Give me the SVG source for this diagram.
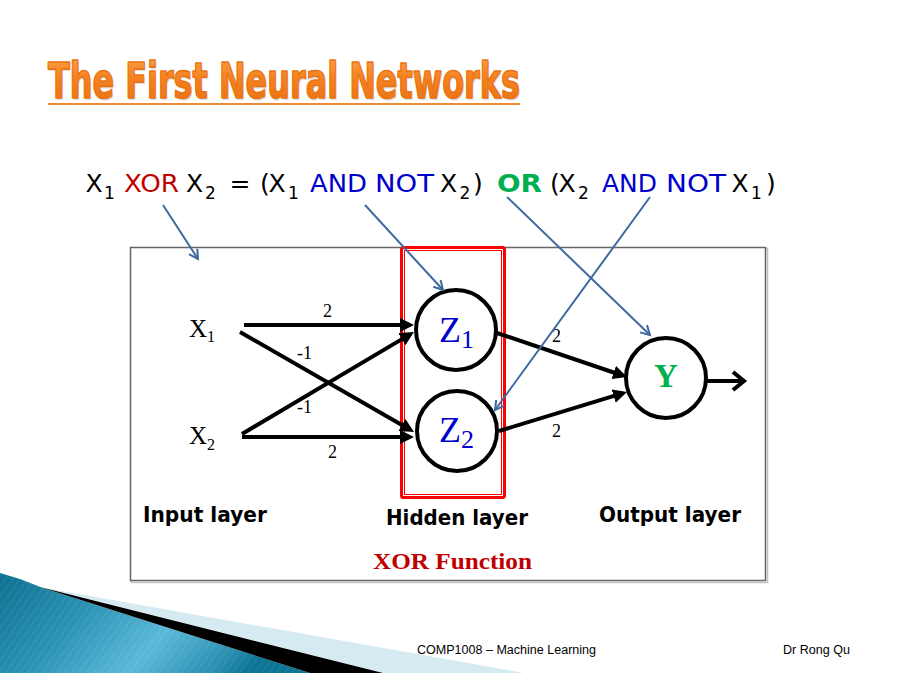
<svg xmlns="http://www.w3.org/2000/svg" width="899" height="673" viewBox="0 0 899 673">
<defs>
<style>
.eq{font-family:"DejaVu Sans","Verdana",sans-serif;font-size:25px;fill:#000}
.sub{font-family:"DejaVu Sans","Verdana",sans-serif;font-size:17px;fill:#000}
.red{fill:#C00000}
.blue{fill:#0000CC}
.grn{fill:#00B050;font-weight:bold}
.tm{font-family:"Liberation Serif","Times New Roman",serif;fill:#000}
.w{font-family:"Liberation Serif","Times New Roman",serif;font-size:18px;fill:#000}
.layer{font-family:"DejaVu Sans","Verdana",sans-serif;font-size:21px;font-weight:bold;fill:#000}
.foot{font-family:"Liberation Sans Narrow","Liberation Sans",Arial,sans-serif;font-size:12.5px;fill:#000}
.conn{stroke:#000;stroke-width:4;fill:none}
.ptr{stroke:#40699F;stroke-width:2;fill:none}
.node{fill:#fff;stroke:#000;stroke-width:4}
</style>
<marker id="ah" markerUnits="userSpaceOnUse" markerWidth="16" markerHeight="14" viewBox="0 0 16 14" refX="3" refY="7" orient="auto">
<path d="M0,0 L14,7 L0,14 z" fill="#000"/>
</marker>
<marker id="bh" markerUnits="userSpaceOnUse" markerWidth="12" markerHeight="12" viewBox="0 0 12 12" refX="10" refY="6" orient="auto">
<path d="M1,1 L10,6 L1,11" fill="none" stroke="#40699F" stroke-width="2"/>
</marker>
<linearGradient id="tg" x1="0" y1="0" x2="0" y2="1">
<stop offset="0" stop-color="#FBA64E"/>
<stop offset="0.45" stop-color="#F58220"/>
<stop offset="1" stop-color="#E66F10"/>
</linearGradient>
<linearGradient id="teal" x1="0" y1="0" x2="1" y2="0.3">
<stop offset="0" stop-color="#0E7190"/>
<stop offset="0.35" stop-color="#2C93B5"/>
<stop offset="0.65" stop-color="#5BB9D8"/>
<stop offset="0.9" stop-color="#2B8FB1"/>
<stop offset="1" stop-color="#0C7594"/>
</linearGradient>
<pattern id="stripes" patternUnits="userSpaceOnUse" width="6" height="6" patternTransform="rotate(35)">
<line x1="0" y1="0" x2="0" y2="6" stroke="#ffffff" stroke-opacity="0.08" stroke-width="2"/>
</pattern>
</defs>
<rect x="0" y="0" width="899" height="673" fill="#fff"/>

<g id="decoration">
<polygon points="0,573 20,579 43,588 310,673 0,673" fill="url(#teal)"/>
<polygon points="0,573 20,579 43,588 310,673 0,673" fill="url(#stripes)"/>
<polygon points="45,588 524,673 383,673" fill="#D6EAF2"/>
<polygon points="40,587 383,673 310,673" fill="#000"/>
</g>

<g id="title">
<text x="49" y="99.5" font-family="'Liberation Sans Narrow','DejaVu Sans Condensed','Liberation Sans',sans-serif" font-weight="bold" font-size="50" fill="#c8c8c8" fill-opacity="0.6" textLength="472" lengthAdjust="spacingAndGlyphs">The First Neural Networks</text>
<text x="48" y="98" font-family="'Liberation Sans Narrow','DejaVu Sans Condensed','Liberation Sans',sans-serif" font-weight="bold" font-size="50" fill="url(#tg)" stroke="#EA7414" stroke-width="1.6" stroke-linejoin="round" textLength="472" lengthAdjust="spacingAndGlyphs">The First Neural Networks</text>
<line x1="48" y1="104" x2="520" y2="104" stroke="#F08A30" stroke-width="2"/>
</g>

<g id="equation">
<text class="eq" x="85.5" y="192">X</text><text class="sub" x="104" y="199">1</text>
<text class="eq red" x="124" y="192" textLength="55" lengthAdjust="spacingAndGlyphs">XOR</text>
<text class="eq" x="186" y="192">X</text><text class="sub" x="205" y="199">2</text>
<text class="eq" x="229.5" y="192">=</text>
<text class="eq" x="260" y="192">(</text>
<text class="eq" x="268.5" y="192">X</text><text class="sub" x="288" y="199">1</text>
<text class="eq blue" x="310" y="192" textLength="57" lengthAdjust="spacingAndGlyphs">AND</text>
<text class="eq blue" x="375" y="192" textLength="59" lengthAdjust="spacingAndGlyphs">NOT</text>
<text class="eq" x="440" y="192">X</text><text class="sub" x="459.5" y="199">2</text>
<text class="eq" x="473" y="192">)</text>
<text class="eq grn" x="497" y="192" textLength="45" lengthAdjust="spacingAndGlyphs">OR</text>
<text class="eq" x="550" y="192">(</text>
<text class="eq" x="558.5" y="192">X</text><text class="sub" x="578" y="199">2</text>
<text class="eq blue" x="602" y="192" textLength="55" lengthAdjust="spacingAndGlyphs">AND</text>
<text class="eq blue" x="666" y="192" textLength="60" lengthAdjust="spacingAndGlyphs">NOT</text>
<text class="eq" x="731.5" y="192">X</text><text class="sub" x="751" y="199">1</text>
<text class="eq" x="766" y="192">)</text>
</g>

<g id="frame">
<rect x="131.5" y="248.5" width="636" height="334" fill="none" stroke="#c4c4c4" stroke-width="1.5"/>
<rect x="130.5" y="247.5" width="635" height="333" fill="#fff" stroke="#666" stroke-width="1.5"/>
</g>

<g id="hidden-layer-box">
<rect x="401.5" y="247.5" width="103" height="250" rx="2" fill="none" stroke="#FF0000" stroke-width="3"/>
<rect x="404.5" y="250.5" width="97" height="244" fill="none" stroke="#FF0000" stroke-width="1"/>
</g>

<g id="connectors">
<line class="conn" x1="244" y1="325" x2="403" y2="325" marker-end="url(#ah)"/>
<line class="conn" x1="240" y1="332" x2="404.5" y2="426.5" marker-end="url(#ah)"/>
<line class="conn" x1="242" y1="434" x2="404.5" y2="337.6" marker-end="url(#ah)"/>
<line class="conn" x1="242" y1="437" x2="403" y2="437" marker-end="url(#ah)"/>
<line class="conn" x1="497" y1="333" x2="616.6" y2="373.5" marker-end="url(#ah)"/>
<line class="conn" x1="499" y1="431" x2="616.5" y2="395.2" marker-end="url(#ah)"/>
<line class="conn" x1="706" y1="381" x2="743" y2="381"/>
<polyline class="conn" points="733,372 744,381 733,390"/>
</g>

<g id="weights">
<text class="w" x="323" y="317">2</text>
<text class="w" x="297" y="359">-1</text>
<text class="w" x="297" y="413">-1</text>
<text class="w" x="328" y="458">2</text>
<text class="w" x="552" y="342">2</text>
<text class="w" x="552" y="437">2</text>
</g>

<g id="node-x1">
<text class="tm" x="189" y="337" font-size="25">X</text><text class="tm" x="207" y="342" font-size="16">1</text>
</g>
<g id="node-x2">
<text class="tm" x="189" y="444" font-size="25">X</text><text class="tm" x="207" y="450" font-size="16">2</text>
</g>

<g id="node-z1">
<circle class="node" cx="456" cy="330" r="40"/>
<text class="tm" x="439" y="342" font-size="36" style="fill:#0000CC">Z</text>
<text class="tm" x="461" y="348" font-size="26" style="fill:#0000CC">1</text>
</g>
<g id="node-z2">
<circle class="node" cx="457" cy="431" r="40"/>
<text class="tm" x="439" y="442" font-size="36" style="fill:#0000CC">Z</text>
<text class="tm" x="461" y="448" font-size="26" style="fill:#0000CC">2</text>
</g>
<g id="node-y">
<circle class="node" cx="666" cy="378" r="40"/>
<text class="tm" x="666" y="387" font-size="33" font-weight="bold" text-anchor="middle" style="fill:#00B050">Y</text>
</g>

<g id="pointers">
<line class="ptr" x1="163" y1="205" x2="198" y2="259" marker-end="url(#bh)"/>
<line class="ptr" x1="365" y1="205" x2="443" y2="290" marker-end="url(#bh)"/>
<line class="ptr" x1="507" y1="197" x2="650" y2="335" marker-end="url(#bh)"/>
<line class="ptr" x1="650" y1="197" x2="495" y2="410" marker-end="url(#bh)"/>
</g>

<g id="labels">
<text class="layer" x="143" y="522" textLength="124" lengthAdjust="spacingAndGlyphs">Input layer</text>
<text class="layer" x="386" y="525" textLength="142" lengthAdjust="spacingAndGlyphs">Hidden layer</text>
<text class="layer" x="599" y="522" textLength="142" lengthAdjust="spacingAndGlyphs">Output layer</text>
<text class="tm" x="373" y="569" font-size="24" font-weight="bold" style="fill:#C00000" textLength="159" lengthAdjust="spacingAndGlyphs">XOR Function</text>
</g>

<g id="footer">
<text class="foot" x="417" y="654" textLength="179" lengthAdjust="spacingAndGlyphs">COMP1008 – Machine Learning</text>
<text class="foot" x="783" y="654" textLength="67" lengthAdjust="spacingAndGlyphs">Dr Rong Qu</text>
</g>
</svg>
